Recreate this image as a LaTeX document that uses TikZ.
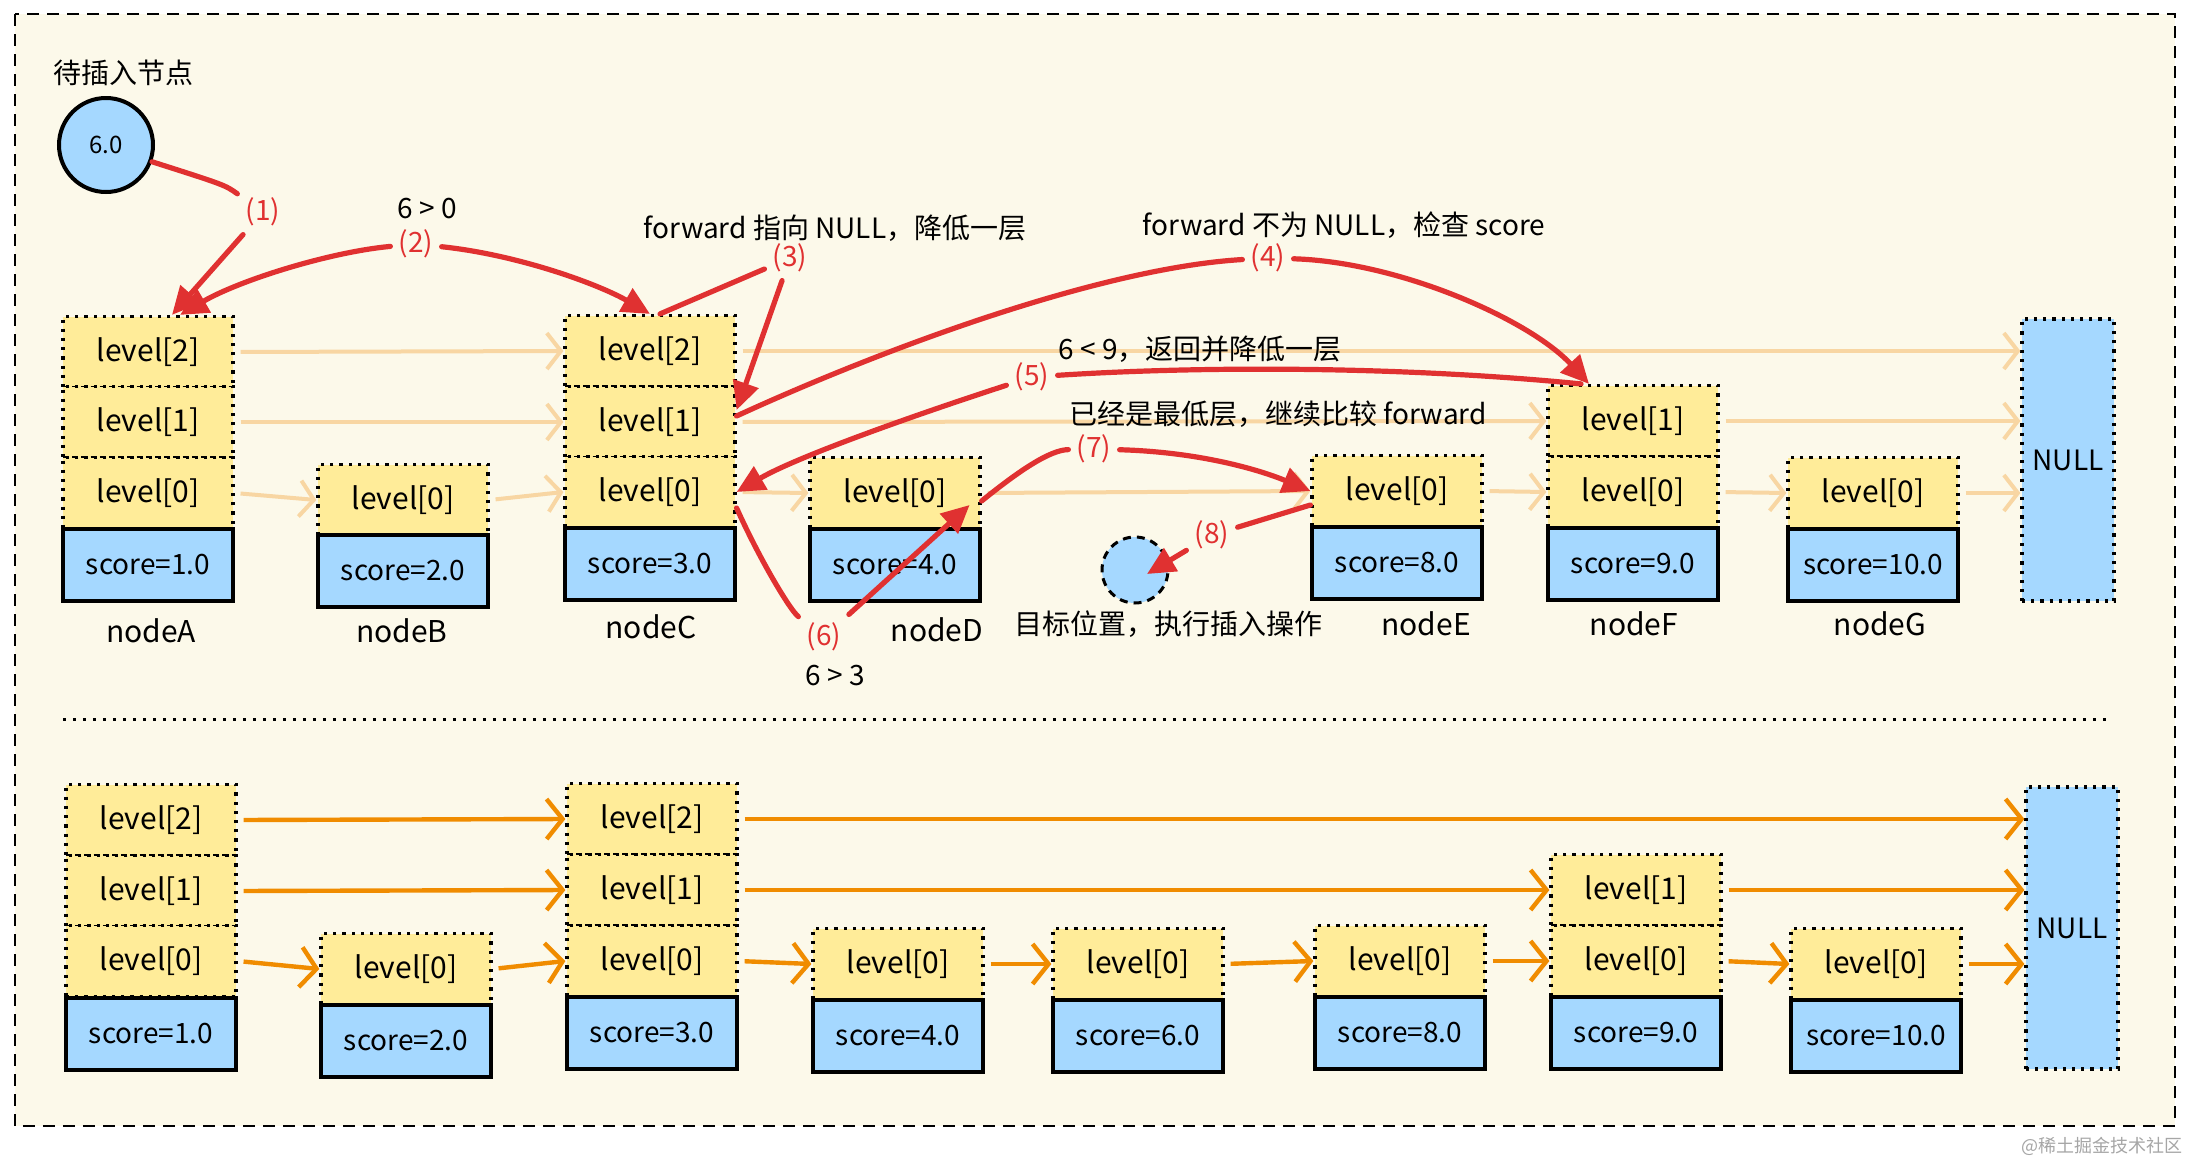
\documentclass[tikz,border=0pt]{standalone}
\usepackage{fontspec}
\setmainfont{Noto Sans CJK SC}
\usetikzlibrary{arrows.meta,calc}
\definecolor{yel}{RGB}{255,236,153}
\definecolor{blu}{RGB}{165,216,255}
\definecolor{redx}{RGB}{224,49,49}
\definecolor{orn}{RGB}{240,140,0}
\definecolor{faint}{RGB}{248,214,163}
\definecolor{cream}{RGB}{252,249,234}
\begin{document}
\begin{tikzpicture}[x=0.5pt,y=-0.5pt,
  lvl/.style={rectangle,fill=yel,draw=black,line width=1.6pt,dash pattern=on 1.6pt off 3pt,
    minimum width=85pt,minimum height=35.5pt,inner sep=0pt,font=\fontsize{15}{17}\selectfont},
  scr/.style={rectangle,fill=blu,draw=black,line width=1.6pt,
    minimum width=85pt,minimum height=36pt,inner sep=0pt,font=\fontsize{14}{16}\selectfont},
  nullb/.style={rectangle,fill=blu,draw=black,line width=1.6pt,dash pattern=on 1.6pt off 3pt,
    minimum width=46pt,minimum height=141pt,inner sep=0pt,font=\fontsize{14}{16}\selectfont},
  nlab/.style={font=\fontsize{15}{17}\selectfont,inner sep=1pt},
  txt/.style={font=\fontsize{14}{16}\selectfont,inner sep=1pt},
  lbl/.style={text=redx,font=\fontsize{14}{16}\selectfont,inner sep=4pt},
  rd/.style={draw=redx,line width=2.6pt,line cap=round},
  rda/.style={rd,-{Triangle[length=14pt,width=13pt]}},
  fa/.style={draw=faint,line width=2pt,shorten <=3pt,-{Straight Barb[length=7pt,width=18pt]}},
  oa/.style={draw=orn,line width=2.2pt,shorten <=3pt,-{Straight Barb[length=8pt,width=20pt]}}
]
\useasboundingbox (0,0) rectangle (2190,1162);
\fill[white] (0,0) rectangle (2190,1162);
\draw[fill=cream,line width=1.2pt,dash pattern=on 6pt off 4pt] (15,14) rectangle (2175,1126);

% ---------- top section ----------
\node[txt] (tins) at (124,73) {待插入节点};
\node[circle,fill=blu,draw=black,line width=2pt,minimum size=47pt,inner sep=0pt,
  font=\fontsize{12}{14}\selectfont] (c6) at (106,145) {6.0};

\node[lvl] (A2) at (148,352) {level[2]};
\node[lvl] (A1) at (148,422) {level[1]};
\node[lvl] (A0) at (148,493) {level[0]};
\node[scr] (As) at (148,565) {score=1.0};
\node[nlab] (nA) at (151,631) {nodeA};

\node[lvl] (B0) at (403,500) {level[0]};
\node[scr] (Bs) at (403,571) {score=2.0};
\node[nlab] (nB) at (402,631) {nodeB};

\node[lvl] (C2) at (650,351) {level[2]};
\node[lvl] (C1) at (650,422) {level[1]};
\node[lvl] (C0) at (650,492) {level[0]};
\node[scr] (Cs) at (650,564) {score=3.0};
\node[nlab] (nC) at (651,627) {nodeC};

\node[lvl] (D0) at (895,493) {level[0]};
\node[scr] (Ds) at (895,565) {score=4.0};
\node[nlab] (nD) at (937,630) {nodeD};

\node[lvl] (E0) at (1397,491) {level[0]};
\node[scr] (Es) at (1397,563) {score=8.0};
\node[nlab] (nE) at (1426,624) {nodeE};

\node[lvl] (F1) at (1633,421) {level[1]};
\node[lvl] (F0) at (1633,492) {level[0]};
\node[scr] (Fs) at (1633,564) {score=9.0};
\node[nlab] (nF) at (1634,624) {nodeF};

\node[lvl] (G0) at (1873,493) {level[0]};
\node[scr] (Gs) at (1873,565) {score=10.0};
\node[nlab] (nG) at (1880,624) {nodeG};

\node[nullb] (NL) at (2068,460) {NULL};

% faint arrows
\draw[fa] (A2.east) -- (C2.west);
\draw[fa] (C2.east) -- (C2.east -| NL.west);
\draw[fa] (A1.east) -- (C1.west);
\draw[fa] (C1.east) -- (F1.west);
\draw[fa] (F1.east) -- (F1.east -| NL.west);
\draw[fa] (A0.east) -- (B0.west);
\draw[fa] (B0.east) -- (C0.west);
\draw[fa] (C0.east) -- (D0.west);
\draw[fa] (D0.east) -- (E0.west);
\draw[fa] (E0.east) -- (F0.west);
\draw[fa] (F0.east) -- (G0.west);
\draw[fa] (G0.east) -- (G0.east -| NL.west);

% target position
\node[circle,fill=blu,draw=black,line width=1.5pt,dash pattern=on 4pt off 3pt,
  minimum size=33pt,inner sep=0pt] (tgt) at (1135,570) {};

% texts
\node[txt] (tc1) at (427,209) {6 > 0};
\node[txt] (tc3) at (835,228) {forward 指向 NULL，降低一层};
\node[txt] (tc4) at (1344,225) {forward 不为 NULL，检查 score};
\node[txt] (tc5) at (1200,349) {6 < 9，返回并降低一层};
\node[txt] (tc7) at (1278,414) {已经是最低层，继续比较 forward};
\node[txt] (tc8) at (1168,624) {目标位置，执行插入操作};
\node[txt] (tc6) at (835,676) {6 > 3};

% red step labels
\node[lbl] (l1) at (263,212) {(1)};
\node[lbl] (l2) at (416,244) {(2)};
\node[lbl] (l3) at (790,258) {(3)};
\node[lbl] (l4) at (1268,258) {(4)};
\node[lbl] (l5) at (1032,377) {(5)};
\node[lbl] (l6) at (824,637) {(6)};
\node[lbl] (l7) at (1094,449) {(7)};
\node[lbl] (l8) at (1212,535) {(8)};

% red paths
\draw[rd] (c6.-20) .. controls (225,185) .. (l1);
\draw[rda] (l1) -- ([xshift=12pt]A2.north);
\draw[rda] (l2) .. controls (330,252) and (240,280) .. ([xshift=16pt]A2.north);
\draw[rda] (l2) .. controls (520,255) and (600,285) .. (C2.north);
\draw[rd] ([xshift=5pt]C2.north) -- (l3);
\draw[rda] (l3) -- ([yshift=6pt]C1.east);
\draw[rd] ([yshift=3pt]C1.east) .. controls (880,350) and (1100,268) .. (l4);
\draw[rda] (l4) .. controls (1400,262) and (1530,320) .. ([xshift=-22pt]F1.north);
\draw[rd] ([xshift=-26pt]F1.north) .. controls (1400,366) and (1200,366) .. (l5);
\draw[rda] (l5) .. controls (930,410) and (800,455) .. (C0.east);
\draw[rd] ([yshift=-8pt]C0.east) .. controls (760,560) and (790,610) .. (l6);
\draw[rda] (l6) -- ([xshift=-6pt,yshift=-6pt]D0.east);
\draw[rd] ([yshift=-4pt]D0.east) .. controls (1020,470) and (1050,450) .. (l7);
\draw[rda] (l7) .. controls (1200,452) and (1260,470) .. (E0.west);
\draw[rd] ([yshift=-7pt]E0.west) -- (l8);
\draw[rda] (l8) -- ([xshift=6pt,yshift=-2pt]tgt.center);

% separator
\draw[line width=1.5pt,dash pattern=on 1.5pt off 3.5pt] (63,719) -- (2112,719);

% ---------- bottom section ----------
\node[lvl] (a2) at (151,820) {level[2]};
\node[lvl] (a1) at (151,891) {level[1]};
\node[lvl] (a0) at (151,961) {level[0]};
\node[scr] (as) at (151,1034) {score=1.0};

\node[lvl] (b0) at (406,969) {level[0]};
\node[scr] (bs) at (406,1041) {score=2.0};

\node[lvl] (c2) at (652,819) {level[2]};
\node[lvl] (c1) at (652,890) {level[1]};
\node[lvl] (c0) at (652,961) {level[0]};
\node[scr] (cs) at (652,1033) {score=3.0};

\node[lvl] (d0) at (898,964) {level[0]};
\node[scr] (ds) at (898,1036) {score=4.0};

\node[lvl] (n0) at (1138,964) {level[0]};
\node[scr] (ns) at (1138,1036) {score=6.0};

\node[lvl] (e0) at (1400,961) {level[0]};
\node[scr] (es) at (1400,1033) {score=8.0};

\node[lvl] (f1) at (1636,890) {level[1]};
\node[lvl] (f0) at (1636,961) {level[0]};
\node[scr] (fs) at (1636,1033) {score=9.0};

\node[lvl] (g0) at (1876,964) {level[0]};
\node[scr] (gs) at (1876,1036) {score=10.0};

\node[nullb] (nl) at (2072,928) {NULL};

\draw[oa] (a2.east) -- (c2.west);
\draw[oa] (c2.east) -- (c2.east -| nl.west);
\draw[oa] (a1.east) -- (c1.west);
\draw[oa] (c1.east) -- (f1.west);
\draw[oa] (f1.east) -- (f1.east -| nl.west);
\draw[oa] (a0.east) -- (b0.west);
\draw[oa] (b0.east) -- (c0.west);
\draw[oa] (c0.east) -- (d0.west);
\draw[oa] (d0.east) -- (n0.west);
\draw[oa] (n0.east) -- (e0.west);
\draw[oa] (e0.east) -- (f0.west);
\draw[oa] (f0.east) -- (g0.west);
\draw[oa] (g0.east) -- (g0.east -| nl.west);

\node[text=black!35,font=\fontsize{9}{10}\selectfont,anchor=east,inner sep=0pt] (wm) at (2183,1146) {@稀土掘金技术社区};
\end{tikzpicture}
\end{document}
